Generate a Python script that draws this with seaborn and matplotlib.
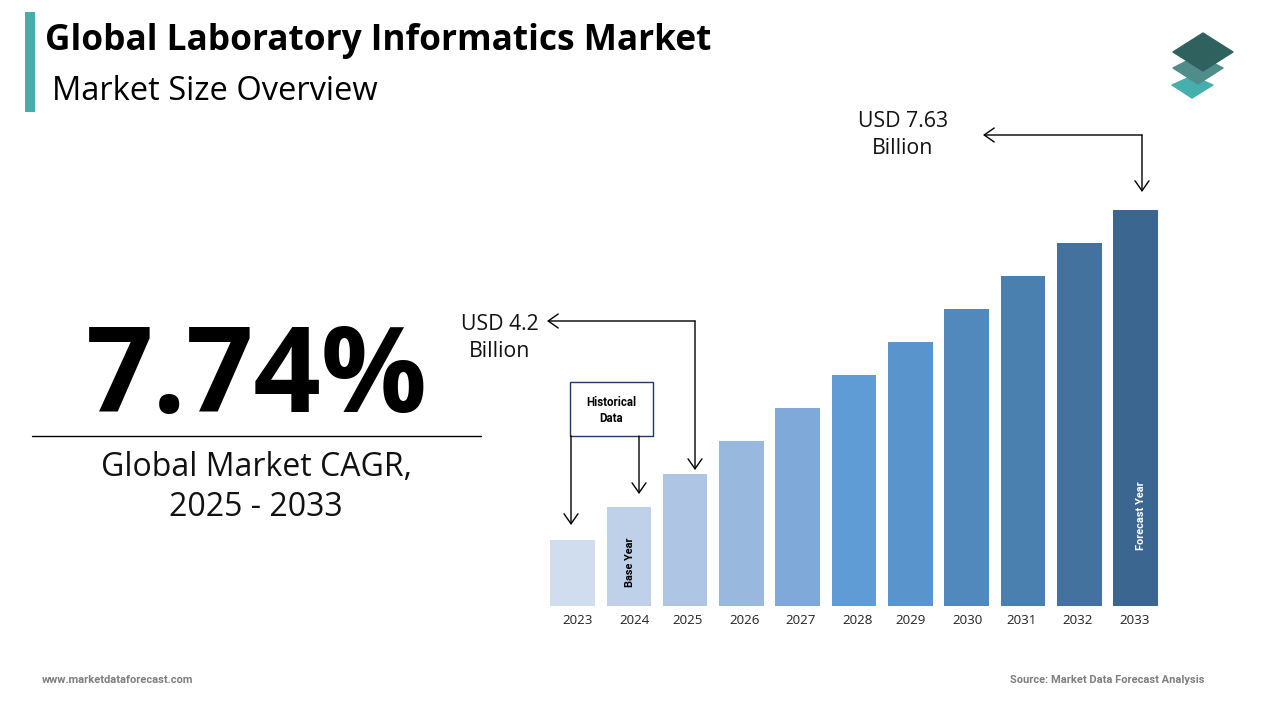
import matplotlib
matplotlib.use("Agg")
import matplotlib.pyplot as plt
from matplotlib.patches import Polygon, Rectangle
from matplotlib.transforms import ScaledTranslation
import pandas as pd
import seaborn as sns

# data
years = ["2023", "2024", "2025", "2026", "2027", "2028", "2029", "2030", "2031", "2032", "2033"]
# the bars are a drawn staircase, not to scale with the USD labels
bar_heights = [2, 3, 4, 5, 6, 7, 8, 9, 10, 11, 12]
bar_colors = ["#D0DDEE", "#BED1E9", "#AEC6E4", "#98B8DE", "#7FA9D9", "#5F9BD5",
              "#5A94CC", "#5189BD", "#4A80B0", "#44729F", "#3B668F"]
cagr_text = "7.74%"
start_label = "USD 4.2\nBillion"
end_label = "USD 7.63\nBillion"

df = pd.DataFrame({"year": years, "size": bar_heights})

sns.set_theme(style="white")
plt.rcParams["font.family"] = ["Open Sans", "DejaVu Sans"]
narrow = ["Liberation Sans Narrow", "Roboto", "DejaVu Sans"]

W, H = 1280, 720
fig = plt.figure(figsize=(W / 100, H / 100), dpi=100, facecolor="white")

# bar chart, placed so one unit is 33 px
left, right = 544.3, 1163.8
top = 606 - 33 * 12.2
ax = fig.add_axes([left / W, 1 - 606 / H, (right - left) / W, (606 - top) / H])
sns.barplot(data=df, x="year", y="size", hue="year", palette=bar_colors, legend=False,
            width=0.79, saturation=1, linewidth=0, ax=ax)
ax.set_xlim(-0.5, 10.5)
ax.set_ylim(0, 12.2)
ax.set_xlabel("")
ax.set_ylabel("")
ax.set_yticks([])
ax.tick_params(axis="x", length=0, pad=6, labelsize=9.6, labelcolor="#222222")
ax.patch.set_alpha(0)
sns.despine(ax=ax, left=True, bottom=True)

# year labels sit a little off the bar centres in the original
label_nudge = [5, 6, 2, 3, 3, 4, 0, 1, -1, -2, -1]
for lab, dx in zip(ax.get_xticklabels(), label_nudge):
    lab.set_transform(lab.get_transform() + ScaledTranslation(dx / 100, 0, fig.dpi_scale_trans))

# overlay in pixel coordinates for the slide furniture
ov = fig.add_axes([0, 0, 1, 1], zorder=5)
ov.set_xlim(0, W)
ov.set_ylim(H, 0)
ov.axis("off")

ov.add_patch(Rectangle((25, 12), 10, 100, color="#4BABA9", lw=0))
ov.text(45, 41, "Global Laboratory Informatics Market", fontsize=25.4, fontweight="bold",
        color="black", va="center", ha="left")
ov.text(52, 91, "Market Size Overview", fontsize=23.5, color="black", va="center", ha="left")

# logo
ov.add_patch(Polygon([(1172, 85), (1192, 76), (1213, 85), (1192, 98)], color="#45AFAD", lw=1, joinstyle="round"))
ov.add_patch(Polygon([(1173, 68), (1198, 55), (1223, 68), (1198, 84)], color="#4F8C8A", lw=1, joinstyle="round"))
ov.add_patch(Polygon([(1173, 52), (1203, 33), (1233, 52), (1203, 71)], color="#2F615F", lw=1, joinstyle="round"))

# CAGR block
ov.text(257, 382, cagr_text, fontsize=85, fontweight="bold", color="black", ha="center", va="center")
ov.plot([32, 481], [436, 436], color="black", lw=1)
ov.text(256, 468, "Global Market CAGR,", fontsize=23, color="#111111", ha="center", va="center")
ov.text(256, 508, "2025 - 2033", fontsize=23, color="#111111", ha="center", va="center")


def arrow(x0, y0, x1, y1):
    ov.annotate("", xy=(x1, y1), xytext=(x0, y0),
                arrowprops=dict(arrowstyle="->,head_length=0.4,head_width=0.28", color="black",
                                lw=1, mutation_scale=18, shrinkA=0, shrinkB=0))


# USD labels and their arrows
ov.text(903, 135, end_label, fontsize=15.3, color="#111111", ha="center", va="center", linespacing=1.42)
arrow(1142, 135, 983, 135)
arrow(1142, 135, 1142, 192)
ov.text(500, 338, start_label, fontsize=15.3, color="#111111", ha="center", va="center", linespacing=1.42)
arrow(695, 321, 547, 321)
arrow(695, 321, 695, 470)

# historical box
ov.add_patch(Rectangle((570, 382), 83, 54, fill=False, edgecolor="#1F3A5F", lw=1))
ov.text(611, 402, "Historical", family=narrow, fontsize=8.3, fontweight="bold", color="black", ha="center", va="center")
ov.text(611, 418, "Data", family=narrow, fontsize=8.3, fontweight="bold", color="black", ha="center", va="center")
arrow(571, 436, 571, 525)
arrow(639, 436, 639, 494)

# labels inside bars
ov.text(630, 562, "Base Year", family=narrow, fontsize=7.8, fontweight="bold", color="black",
        rotation=90, ha="center", va="center")
ov.text(1141, 516, "Forecast Year", family=narrow, fontsize=7.9, fontweight="bold", color="white",
        rotation=90, ha="center", va="center")

# footer
ov.text(42, 680, "www.marketdataforecast.com", family=narrow, fontsize=8, fontweight="bold",
        color="#7F7F7F", ha="left", va="center")
ov.text(1204, 680, "Source: Market Data Forecast Analysis", family=narrow, fontsize=8, fontweight="bold",
        color="#7F7F7F", ha="right", va="center")

fig.savefig("out.png", dpi=100, facecolor="white")
